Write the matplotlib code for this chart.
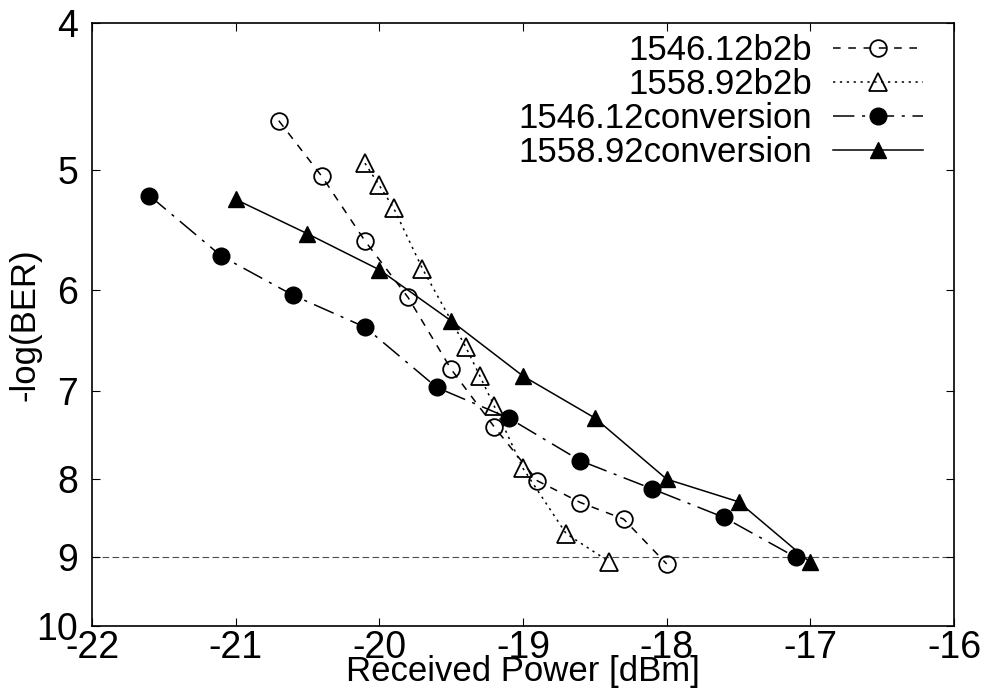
import numpy as np
import matplotlib.pyplot as plt
from matplotlib.ticker import NullLocator

plt.rcParams['font.family'] = ['Liberation Sans', 'DejaVu Sans']

# 1546.12 b2b
x_b2b_1546 = [-20.7, -20.4, -20.1, -19.8, -19.5, -19.2, -18.9, -18.6, -18.3, -18.0]
y_b2b_1546 = [4.64, 5.05, 5.57, 6.07, 6.77, 7.39, 8.02, 8.29, 8.50, 9.10]
# 1558.92 b2b
x_b2b_1558 = [-20.1, -20.0, -19.9, -19.7, -19.4, -19.3, -19.2, -19.0, -18.7, -18.4]
y_b2b_1558 = [4.95, 5.12, 5.30, 5.81, 6.54, 6.84, 7.16, 7.87, 8.69, 9.07]
# 1546.12 conversion
x_conv_1546 = [-21.6, -21.1, -20.6, -20.1, -19.6, -19.1, -18.6, -18.1, -17.6, -17.1]
y_conv_1546 = [5.20, 5.70, 6.05, 6.35, 6.96, 7.29, 7.78, 8.12, 8.48, 9.01]
# 1558.92 conversion
x_conv_1558 = [-21.0, -20.5, -20.0, -19.5, -19.0, -18.5, -18.0, -17.5, -17.0]
y_conv_1558 = [5.23, 5.51, 5.82, 6.29, 6.84, 7.29, 8.00, 8.28, 9.08]

ber_limit = 9
xticks = [-22, -21, -20, -19, -18, -17, -16]
yticks = [4, 5, 6, 7, 8, 9, 10]

fig = plt.figure(figsize=(9.88, 6.92), dpi=100)
ax = fig.add_axes([0.0931, 0.0954, 0.8725, 0.8714])

fs = 25
lw = 1.1
ax.plot(x_b2b_1546, y_b2b_1546, color='black', lw=lw, dashes=(5, 5),
        marker='o', ms=12, mfc='none', mew=1.3, label='1546.12b2b')
ax.plot(x_b2b_1558, y_b2b_1558, color='black', lw=lw, dashes=(1.5, 3),
        marker='^', ms=13, mfc='none', mew=1.3, label='1558.92b2b')
ax.plot(x_conv_1546, y_conv_1546, color='black', lw=lw, dashes=(14, 5, 2, 5),
        marker='o', ms=12, label='1546.12conversion')
ax.plot(x_conv_1558, y_conv_1558, color='black', lw=lw, linestyle='-',
        marker='^', ms=12, label='1558.92conversion')

ax.axhline(ber_limit, color='0.3', lw=0.8, dashes=(6, 3), zorder=0)

ax.set_yscale('log')
ax.set_ylim(10, 4)
ax.set_xlim(-22, -16)
ax.set_yticks(yticks)
ax.set_yticklabels([str(t) for t in yticks])
ax.yaxis.set_minor_locator(NullLocator())
ax.set_xticks(xticks)
ax.set_xticklabels([str(t) for t in xticks])

ax.tick_params(direction='in', length=6, width=0.8, labelsize=27,
               top=True, right=True)
ax.tick_params(axis='x', pad=3)
ax.tick_params(axis='y', pad=10)
for s in ax.spines.values():
    s.set_linewidth(1.2)

ax.set_xlabel('Received Power [dBm]', fontsize=fs, labelpad=-8)
ax.set_ylabel('-log(BER)', fontsize=fs, labelpad=-4)

ax.legend(loc='upper right', bbox_to_anchor=(0.964, 0.982), frameon=False,
          markerfirst=False, fontsize=fs, handlelength=2.6, handletextpad=0.6,
          labelspacing=0.03, borderpad=0, borderaxespad=0)

fig.savefig('out.png', dpi=100)
